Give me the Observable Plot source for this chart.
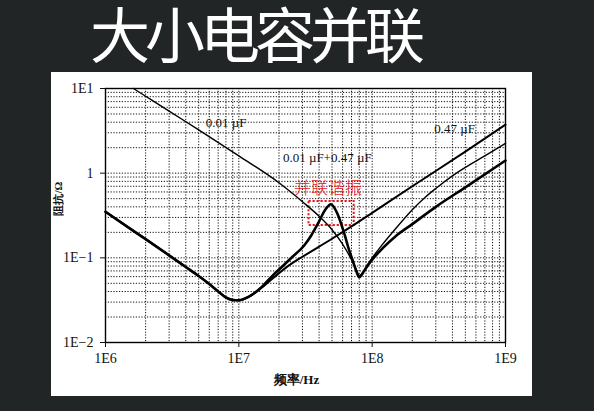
<!DOCTYPE html>
<html><head><meta charset="utf-8">
<script src="https://cdn.jsdelivr.net/npm/d3@7"></script>
<script src="https://cdn.jsdelivr.net/npm/@observablehq/plot@0.6"></script>
<style>
html,body{margin:0;padding:0;background:#222526;}
#wrap{position:relative;width:594px;height:411px;overflow:hidden;background:#222526;}
#panel{position:absolute;left:51px;top:72px;width:481px;height:324px;background:#fff;}
#title{position:absolute;left:40px;top:5px;width:430px;height:66px;text-align:center;color:#fff;font-family:"Liberation Sans","Noto Sans CJK SC";font-size:60px;line-height:66px;letter-spacing:-5px;white-space:nowrap;}
#chart{position:absolute;left:0;top:0;}
</style></head>
<body>
<div id="wrap">
  <div id="panel"></div>
  <div id="title"></div>
  <div id="chart"></div>
</div>
<script>
// ---- data ----
const title = "大小电容并联";
const xTicks = [1e6, 1e7, 1e8, 1e9];
const xTickLabels = ["1E6", "1E7", "1E8", "1E9"];
const yTicks = [0.01, 0.1, 1, 10];
const yTickLabels = ["1E\u22122", "1E\u22121", "1", "1E1"];
const xLabel = "频率/Hz";
const yLabel = "阻抗/Ω";

// 0.47 µF capacitor alone
const f047 = [1e6, 1.5e6, 2e6, 3e6, 4e6, 5e6, 6e6, 7e6, 8e6, 9e6, 1e7, 1.2e7, 1.5e7, 2e7, 2.5e7, 3e7, 5e7, 7e7, 1e8, 2e8, 5e8, 1e9];
const z047 = [0.35, 0.226, 0.166, 0.107, 0.078, 0.061, 0.049, 0.04, 0.034, 0.0318, 0.0315, 0.035, 0.045, 0.066, 0.086, 0.103, 0.168, 0.235, 0.34, 0.7, 1.8, 3.75];

// 0.01 µF capacitor alone
const f001 = [1.62e6, 2e6, 3e6, 5e6, 1e7, 2e7, 3e7, 4e7, 5e7, 6e7, 7e7, 7.5e7, 8e7, 8.5e7, 9e7, 1e8, 1.2e8, 1.46e8, 2e8, 2.5e8, 3e8, 4e8, 5e8, 7e8, 1e9];
const z001 = [10, 8.1, 5.4, 3.25, 1.6, 0.77, 0.46, 0.31, 0.215, 0.145, 0.095, 0.076, 0.062, 0.066, 0.078, 0.1, 0.145, 0.21, 0.37, 0.52, 0.66, 0.93, 1.17, 1.6, 2.25];

// 0.01 µF + 0.47 µF in parallel
const fPar = [1e6, 1.5e6, 2e6, 3e6, 4e6, 5e6, 6e6, 7e6, 8e6, 9e6, 1e7, 1.2e7, 1.5e7, 1.8e7, 2.1e7, 2.46e7, 3.09e7, 3.5e7, 3.9e7, 4.5e7, 4.9e7, 5.5e7, 6.2e7, 6.7e7, 7.2e7, 7.6e7, 8e7, 8.5e7, 9e7, 1e8, 1.2e8, 1.5e8, 2e8, 3e8, 5e8, 1e9];
const zPar = [0.35, 0.226, 0.166, 0.107, 0.078, 0.061, 0.049, 0.04, 0.034, 0.0318, 0.0315, 0.035, 0.046, 0.062, 0.078, 0.099, 0.14, 0.185, 0.25, 0.38, 0.43, 0.33, 0.19, 0.125, 0.09, 0.07, 0.059, 0.066, 0.076, 0.095, 0.13, 0.18, 0.25, 0.4, 0.68, 1.41];

// annotations
const labelText = ["0.01 µF", "0.01 µF+0.47 µF", "0.47 µF"];
const labelF = [5.65e6, 2.14e7, 2.92e8];
const labelZ = [3.97, 1.53, 3.37];
const resText = "并联谐振";
const resF = 4.67e7, resZ = 0.66;
const boxF = [3.36e7, 7.33e7];
const boxZ = [0.241, 0.463];

// ---- build ----
const toRows = (fs, zs) => fs.map((f, i) => ({f, z: zs[i]}));
const s047 = toRows(f047, z047);
const s001 = toRows(f001, z001);
const sPar = toRows(fPar, zPar);
const labels = labelText.map((t, i) => ({t, f: labelF[i], z: labelZ[i]}));

const gridX = [];
for (const d of [1e6, 1e7, 1e8]) for (let m = 1; m <= 9; m++) gridX.push(d * m);
gridX.push(1e9);
const gridY = [];
for (const d of [0.01, 0.1, 1]) for (let m = 1; m <= 9; m++) gridY.push(d * m);
gridY.push(10);

const gridStyle = {stroke: "#111", strokeWidth: 1, strokeDasharray: "1.2,1.6"};

const chart = Plot.plot({
  width: 594,
  height: 411,
  marginLeft: 105,
  marginRight: 89,
  marginTop: 88,
  marginBottom: 69,
  style: {background: "transparent", fontFamily: "Liberation Serif", fontSize: "14px", color: "#111"},
  x: {type: "log", domain: [1e6, 1e9]},
  y: {type: "log", domain: [0.01, 10]},
  marks: [
    Plot.ruleX(gridX, gridStyle),
    Plot.ruleY(gridY, gridStyle),
    Plot.rect([0], {x1: () => boxF[0], x2: () => boxF[1], y1: () => boxZ[0], y2: () => boxZ[1], fill: "none", stroke: "#e8161b", strokeWidth: 2, strokeDasharray: "2.2,1.8"}),
    Plot.line(s001, {x: "f", y: "z", curve: "monotone-x", stroke: "#000", strokeWidth: 1.4}),
    Plot.line(s047, {x: "f", y: "z", curve: "monotone-x", stroke: "#000", strokeWidth: 2}),
    Plot.line(sPar, {x: "f", y: "z", curve: "monotone-x", stroke: "#000", strokeWidth: 2.6}),
    Plot.text(labels, {x: "f", y: "z", text: "t", textAnchor: "start", fontSize: 13, fill: "#111", fontFamily: "Liberation Serif"}),
    Plot.text([resText], {x: () => resF, y: () => resZ, text: d => d, fontSize: 17, fill: "#e8161b", fontFamily: "Noto Sans CJK SC", fontWeight: 300}),
    Plot.frame({stroke: "#000", strokeWidth: 1.4}),
    Plot.axisX({ticks: xTicks, tickFormat: d => xTickLabels[xTicks.indexOf(d)], tickSize: 5, tickPadding: 6, label: null, fontSize: 14}),
    Plot.axisY({ticks: yTicks, tickFormat: d => yTickLabels[yTicks.indexOf(d)], tickSize: 5, tickPadding: 7, label: null, fontSize: 14}),
    Plot.text([xLabel], {frameAnchor: "bottom", text: d => d, dx: -9, dy: 41, fontSize: 13, fontWeight: "bold", fill: "#111"}),
    Plot.text([yLabel], {frameAnchor: "left", text: d => d, dx: -47, rotate: -90, fontSize: 11, fontWeight: "bold", fill: "#111"})
  ]
});
document.getElementById("chart").appendChild(chart);
document.getElementById("title").textContent = title;
</script>
</body></html>
